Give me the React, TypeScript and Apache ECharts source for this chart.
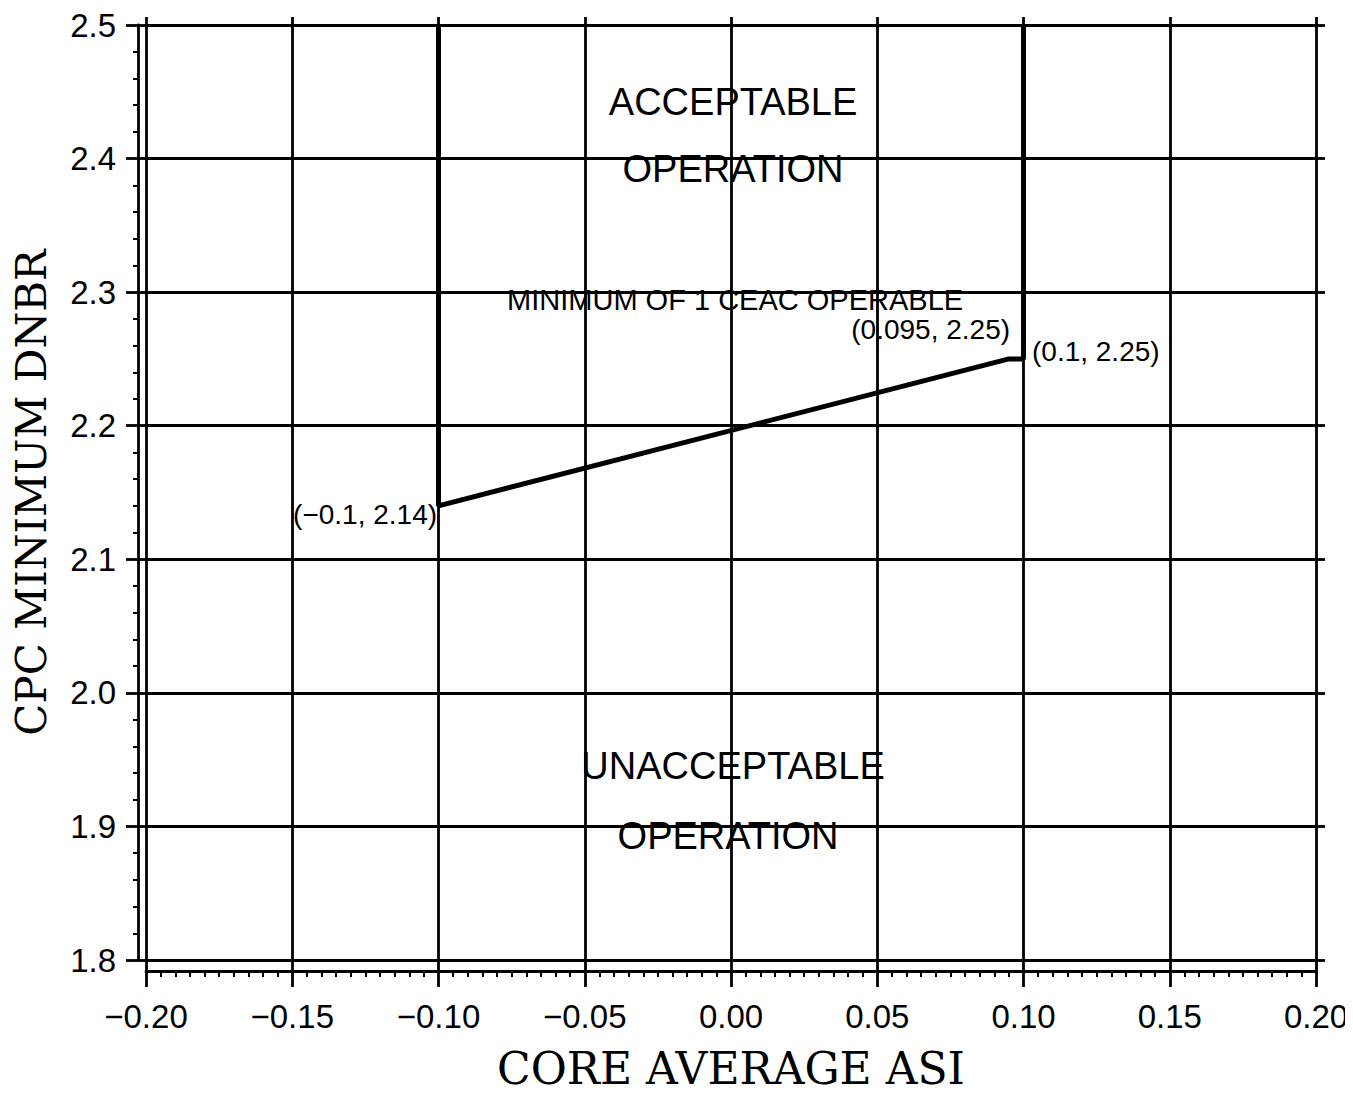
import React, { useEffect, useRef } from "react";
import * as echarts from "echarts";

// Boundary line (ASI, DNBR)
const boundaryX = [-0.1, -0.1, 0.095, 0.1, 0.1];
const boundaryY = [2.5, 2.14, 2.25, 2.25, 2.5];

// Axis ticks
const xTickValues = [-0.2, -0.15, -0.1, -0.05, 0.0, 0.05, 0.1, 0.15, 0.2];
const xTickLabels = ["−0.20", "−0.15", "−0.10", "−0.05", "0.00", "0.05", "0.10", "0.15", "0.20"];
const yTickValues = [1.8, 1.9, 2.0, 2.1, 2.2, 2.3, 2.4, 2.5];
const yTickLabels = ["1.8", "1.9", "2.0", "2.1", "2.2", "2.3", "2.4", "2.5"];

// Annotations: text, x, y, align
const annTexts = [
  "ACCEPTABLE",
  "OPERATION",
  "MINIMUM OF 1 CEAC OPERABLE",
  "(0.095, 2.25)",
  "(0.1, 2.25)",
  "(−0.1, 2.14)",
  "UNACCEPTABLE",
  "OPERATION",
];
const annX = [0.0007, 0.0007, 0.0014, 0.0954, 0.1029, -0.1005, 0.0007, -0.001];
const annY = [2.442, 2.392, 2.294, 2.272, 2.2554, 2.1335, 1.945, 1.893];
const annAlign = ["center", "center", "center", "right", "left", "right", "center", "center"];
const annSize = [38, 38, 29, 28, 28, 28, 38, 38];

const X_MIN = -0.2, X_MAX = 0.2, X_INT = 0.05;
const Y_MIN = 1.8, Y_MAX = 2.5, Y_INT = 0.1;

function xLabel(v: number) {
  const i = xTickValues.findIndex((t) => Math.abs(t - v) < 1e-9);
  return i >= 0 ? xTickLabels[i] : "";
}
function yLabel(v: number) {
  const i = yTickValues.findIndex((t) => Math.abs(t - v) < 1e-9);
  return i >= 0 ? yTickLabels[i] : "";
}

export default function App() {
  const ref = useRef<HTMLDivElement>(null);
  useEffect(() => {
    if (!ref.current) return;
    const chart = echarts.init(ref.current, null, { renderer: "svg" });
    const black = "#000";
    const sans = "Liberation Sans";
    const serif = "DejaVu Serif";
    const baseX = { type: "value", min: X_MIN, max: X_MAX, interval: X_INT };
    const baseY = { type: "value", min: Y_MIN, max: Y_MAX, interval: Y_INT };
    chart.setOption({
      animation: false,
      backgroundColor: "#fff",
      grid: { left: 146, right: 37, top: 25, bottom: 134, containLabel: false },
      xAxis: [
        {
          ...baseX,
          position: "bottom",
          offset: 0,
          axisLine: { show: false, onZero: false },
          axisTick: { show: true, length: 27, lineStyle: { color: black, width: 2.8 } },
          minorTick: { show: false },
          axisLabel: {
            show: true,
            margin: 40,
            color: black,
            fontFamily: sans,
            fontSize: 33,
            formatter: (v: number) => xLabel(v),
          },
          splitLine: { show: true, lineStyle: { color: black, width: 2.8 } },
          name: "CORE AVERAGE ASI",
          nameLocation: "middle",
          nameGap: 86,
          nameTextStyle: { fontFamily: serif, fontSize: 44, color: black },
        },
        {
          ...baseX,
          position: "bottom",
          offset: 11,
          axisLine: { show: true, onZero: false, lineStyle: { color: black, width: 2.8 } },
          axisTick: { show: false },
          minorTick: { show: true, splitNumber: 10, length: 6, lineStyle: { color: black, width: 2 } },
          axisLabel: { show: false },
          splitLine: { show: false },
        },
        {
          ...baseX,
          position: "top",
          axisLine: { show: false, onZero: false },
          axisTick: { show: true, length: 8, lineStyle: { color: black, width: 2.8 } },
          axisLabel: { show: false },
          splitLine: { show: false },
        },
      ],
      yAxis: [
        {
          ...baseY,
          position: "left",
          offset: 0,
          axisLine: { show: false, onZero: false },
          axisTick: { show: true, length: 20, lineStyle: { color: black, width: 2.8 } },
          axisLabel: {
            show: true,
            margin: 30,
            color: black,
            fontFamily: sans,
            fontSize: 33,
            formatter: (v: number) => yLabel(v),
          },
          splitLine: { show: true, lineStyle: { color: black, width: 2.8 } },
          name: "CPC MINIMUM DNBR",
          nameLocation: "middle",
          nameGap: 94,
          nameTextStyle: { fontFamily: serif, fontSize: 42, color: black },
        },
        {
          ...baseY,
          position: "left",
          offset: 8,
          axisLine: { show: true, onZero: false, lineStyle: { color: black, width: 2.8 } },
          axisTick: { show: false },
          minorTick: { show: true, splitNumber: 5, length: 5, lineStyle: { color: black, width: 2 } },
          axisLabel: { show: false },
          splitLine: { show: false },
        },
        {
          ...baseY,
          position: "right",
          axisLine: { show: false, onZero: false },
          axisTick: { show: true, length: 9, lineStyle: { color: black, width: 2.8 } },
          axisLabel: { show: false },
          splitLine: { show: false },
        },
      ],
      series: [
        {
          type: "line",
          xAxisIndex: 0,
          yAxisIndex: 0,
          data: boundaryX.map((x, i) => [x, boundaryY[i]]),
          showSymbol: false,
          symbol: "none",
          lineStyle: { color: black, width: 5 },
          z: 5,
        },
        {
          type: "scatter",
          xAxisIndex: 0,
          yAxisIndex: 0,
          symbolSize: 0,
          silent: true,
          z: 6,
          label: { show: true, color: black, textBorderWidth: 0 },
          data: annTexts.map((t, i) => ({
            value: [annX[i], annY[i]],
            label: {
              show: true,
              position: [0, 0],
              formatter: t,
              align: annAlign[i],
              verticalAlign: "middle",
              fontFamily: sans,
              fontSize: annSize[i],
              color: black,
              opacity: 1,
            },
          })),
        },
      ],
    });
    return () => chart.dispose();
  }, []);
  return <div ref={ref} style={{ width: 1353, height: 1095, margin: -8 }} />;
}
